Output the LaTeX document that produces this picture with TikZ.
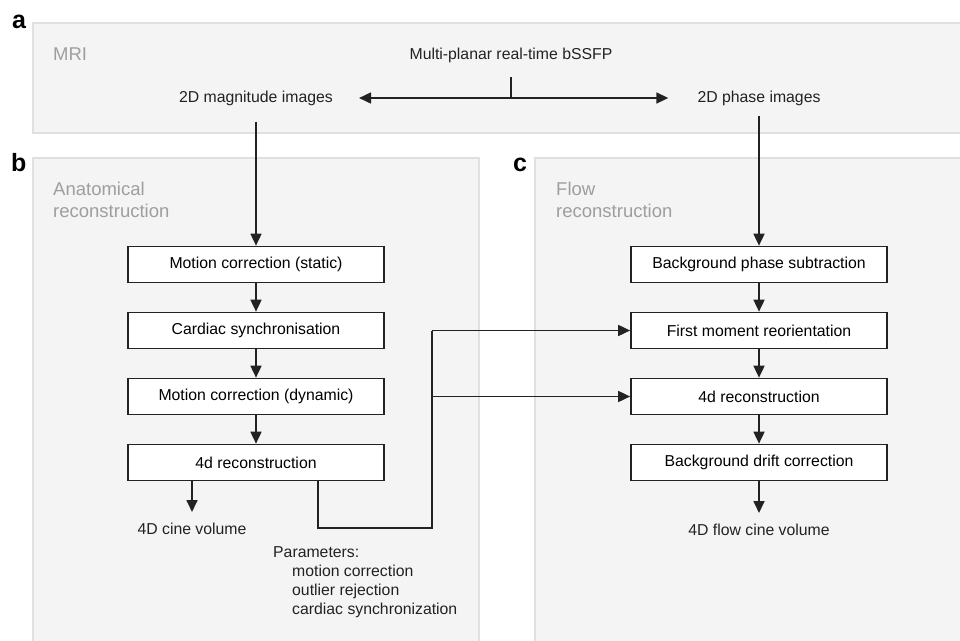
\documentclass[tikz,border=0pt]{standalone}
\usepackage{fontspec}
\setmainfont{Liberation Sans}
\usetikzlibrary{arrows.meta}

\definecolor{panelfill}{HTML}{F4F4F4}
\definecolor{paneledge}{HTML}{E0E0E0}
\definecolor{titlegray}{HTML}{9E9E9E}
\definecolor{inkdark}{HTML}{222222}

\tikzset{
  panel/.style = {fill=panelfill, draw=paneledge, line width=1.5pt},
  stepbox/.style = {draw=inkdark, fill=white, line width=1.7pt, minimum width=256pt,
                    minimum height=36pt, inner sep=0pt, font=\fontsize{15.8}{19}\selectfont},
  txt/.style = {inner sep=0pt, text=inkdark, font=\fontsize{15.8}{19}\selectfont},
  paneltitle/.style = {anchor=base west, inner sep=0pt, text=titlegray, align=left,
                       font=\fontsize{18.5}{21.5}\selectfont},
  letter/.style = {anchor=base west, inner sep=0pt, font=\fontsize{25}{25}\selectfont\bfseries},
  wire/.style = {draw=inkdark, line width=1.7pt},
  flow/.style = {wire, -{Triangle[length=12pt,width=11pt]}}
}

\begin{document}
\begin{tikzpicture}[x=1pt, y=-1pt]
  \useasboundingbox (0,0) rectangle (960,640);

  % panels
  \fill[white] (0,0) rectangle (960,640);
  \draw[panel] (33,23) rectangle (970,133);
  \draw[panel] (33,158) rectangle (479,650);
  \draw[panel] (535,158) rectangle (970,650);
  \node[letter] (la) at (12,28)  {a};
  \node[letter] (lb) at (11,171) {b};
  \node[letter] (lc) at (513,171) {c};
  \node[paneltitle] (mri)  at (53,60)  {MRI};
  \node[paneltitle] (anat) at (53,217) {Anatomical\\reconstruction};
  \node[paneltitle] (flo)  at (556,217) {Flow\\reconstruction};

  % acquisition
  \node[txt] (bssfp) at (511,55) {Multi-planar real-time bSSFP};
  \node[txt, inner xsep=26pt, inner ysep=16pt] (mag) at (256,98) {2D magnitude images};
  \node[txt, inner xsep=29pt, inner ysep=10pt] (pha) at (759,98) {2D phase images};
  \coordinate (tick) at (511,77);
  \coordinate (split) at (511,98);
  \draw[wire] (tick) -- (split);
  \draw[flow] (split) -- (mag);
  \draw[flow] (split) -- (pha);

  % anatomical reconstruction
  \node[stepbox] (mstat) at (256,264.5) {Motion correction (static)};
  \node[stepbox] (csync) at (256,330.5) {Cardiac synchronisation};
  \node[stepbox] (mdyn)  at (256,396.5) {Motion correction (dynamic)};
  \node[stepbox] (arec)  at (256,462.5) {4d reconstruction};
  \node[txt, inner ysep=11pt] (acine) at (192,529) {4D cine volume};
  \node[txt, anchor=base west, align=left] (params) at (273,614)
    {Parameters:\\\hspace*{19pt}motion correction\\\hspace*{19pt}outlier rejection\\\hspace*{19pt}cardiac synchronization};

  \draw[flow] (mag) -- (mstat);
  \draw[flow] (mstat) -- (csync);
  \draw[flow] (csync) -- (mdyn);
  \draw[flow] (mdyn) -- (arec);
  \draw[flow] (arec.south -| acine) -- (acine);

  % flow reconstruction
  \node[stepbox] (bphase) at (759,264.5) {Background phase subtraction};
  \node[stepbox] (fmom)   at (759,330.5) {First moment reorientation};
  \node[stepbox] (frec)   at (759,396.5) {4d reconstruction};
  \node[stepbox] (drift)  at (759,462.5) {Background drift correction};
  \node[txt, inner ysep=11pt] (fcine) at (759,530) {4D flow cine volume};

  \draw[flow] (pha) -- (bphase);
  \draw[flow] (bphase) -- (fmom);
  \draw[flow] (fmom) -- (frec);
  \draw[flow] (frec) -- (drift);
  \draw[flow] (drift) -- (fcine);

  % parameters passed across
  \coordinate (pdown) at (318,528);
  \coordinate (pcorner) at (432,528);
  \coordinate (ptop) at (432,330.5);
  \draw[wire] (arec.south -| pdown) -- (pdown) -- (pcorner) -- (ptop);
  \draw[flow] (ptop) -- (fmom);
  \draw[flow] (pcorner |- frec) -- (frec);
\end{tikzpicture}
\end{document}
